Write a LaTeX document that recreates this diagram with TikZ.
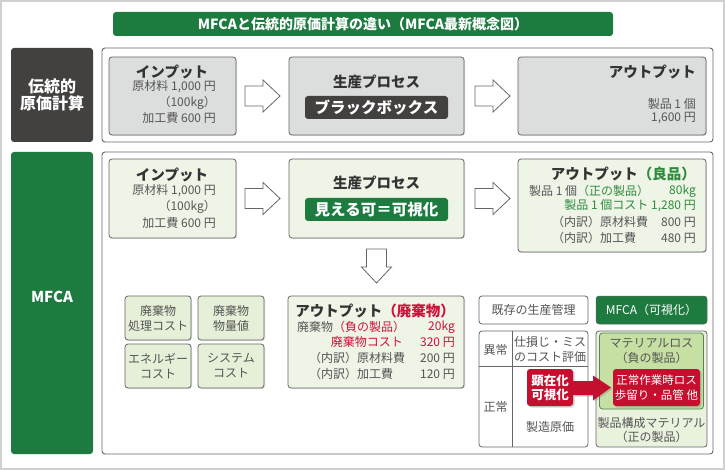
\documentclass[tikz,border=0pt]{standalone}
\usepackage{fontspec}
\setmainfont{Noto Sans CJK JP}
\usetikzlibrary{calc,shadows}
\definecolor{mgreen}{HTML}{1D7B40}
\definecolor{tgreen}{HTML}{2E8B3E}
\definecolor{tred}{HTML}{D0103A}
\definecolor{mred}{HTML}{C4102E}
\definecolor{dgray}{HTML}{43413F}
\definecolor{bordergray}{HTML}{666666}
\definecolor{boxgray}{HTML}{DCDDDD}
\definecolor{boxgreen}{HTML}{EEF4E6}
\definecolor{smallgreen}{HTML}{E6F0D8}
\definecolor{lossgreen}{HTML}{C6DFA2}
\definecolor{outgreen}{HTML}{E9F2DD}
\definecolor{bodytext}{HTML}{555555}
\definecolor{headtext}{HTML}{333333}
\definecolor{framegray}{HTML}{D0D0D0}
\newcommand\fh{\fontsize{14.5}{16}\selectfont\bfseries}
\newcommand\fb{\fontsize{12}{15}\selectfont}
\tikzset{
  shd/.style={drop shadow={shadow xshift=1pt,shadow yshift=-1pt,opacity=0.25}},
  rect/.style={anchor=north west,inner sep=0pt,outer sep=0pt,rounded corners=3pt},
  panel/.style={rect,draw=bordergray,line width=0.9pt,fill=white},
  label/.style={rect,text=white,font=\fontsize{16}{19}\selectfont\bfseries,align=center},
  graybox/.style={rect,draw=bordergray,line width=0.8pt,fill=boxgray,shd},
  greenbox/.style={rect,draw=bordergray,line width=0.8pt,fill=boxgreen,shd},
  smallbox/.style={rect,draw=bordergray,line width=0.8pt,fill=smallgreen,shd,text=bodytext,font=\fb,align=center},
  head/.style={inner sep=0pt,text=headtext,font=\fh},
  body/.style={inner sep=0pt,text=bodytext,font=\fb},
  pill/.style={rect,text=white,font=\fontsize{15.5}{18}\selectfont\bfseries},
  redbox/.style={rect,fill=mred,text=white,align=center,drop shadow={shadow xshift=1.5pt,shadow yshift=-1.5pt,opacity=0.35}},
  barrow/.style={draw=bordergray,line width=0.8pt,fill=white,line join=miter},
  rarrow/.pic={\path[barrow] (0,-10) -- (18,-10) -- (18,-16) -- (35,0) -- (18,16) -- (18,10) -- (0,10) -- cycle;},
  darrow/.pic={\path[barrow] (-10,0) -- (-10,18) -- (-15,18) -- (0,34) -- (15,18) -- (10,18) -- (10,0) -- cycle;}
}
\begin{document}
\begin{tikzpicture}[x=1pt,y=-1pt]
\useasboundingbox (0,0) rectangle (725,470);
\draw[line width=2pt,framegray] (1,1) rectangle (724,469);

% title
\node[rect,fill=mgreen,minimum width=500,minimum height=24,text=white,font=\fontsize{14}{16}\selectfont\bfseries] (title) at (113,12) {MFCAと伝統的原価計算の違い（MFCA最新概念図）};

% left labels
\node[label,fill=dgray,minimum width=82,minimum height=94] (lab1) at (11,48) {伝統的\\[-2pt]原価計算};
\node[rect,fill=mgreen,minimum width=82,minimum height=302] (lab2) at (11,152) {};
\node[text=white,font=\fontsize{15}{18}\selectfont\bfseries,inner sep=0pt] (lab2t) at (52,297) {MFCA};

% panels
\node[panel,minimum width=611,minimum height=94] (pan1) at (102,48) {};
\node[panel,minimum width=611,minimum height=302] (pan2) at (102,152) {};

% ---------- traditional row ----------
\node[graybox,minimum width=127,minimum height=78] (in1) at (109,57) {};
\node[head] (in1h) at (172,72) {インプット};
\node[body,anchor=east] (in1a) at (216,87) {原材料 1,000 円};
\node[body,anchor=east] (in1b) at (216,103) {（100kg）};
\node[body,anchor=east] (in1c) at (216,118) {加工費 600 円};

\node[graybox,minimum width=175,minimum height=78] (pr1) at (289,57) {};
\node[head] (pr1h) at (376.5,82) {生産プロセス};
\node[pill,fill=dgray,minimum width=143,minimum height=23] (bb) at (305,96) {};
\node[text=white,font=\fontsize{15.5}{18}\selectfont\bfseries,inner sep=0pt] (bbt) at (bb.center) {ブラックボックス};

\node[graybox,minimum width=188,minimum height=78] (out1) at (518,57) {};
\node[head,anchor=east] (out1h) at (696,72) {アウトプット};
\node[body,anchor=east] (out1a) at (696,104) {製品 1 個};
\node[body,anchor=east] (out1b) at (696,118) {1,600 円};

\pic at ($(in1.east)+(9,0)$) {rarrow};
\pic at ($(pr1.east)+(11,0)$) {rarrow};

% ---------- MFCA row ----------
\node[greenbox,minimum width=127,minimum height=79] (in2) at (109,159) {};
\node[head] (in2h) at (172,175) {インプット};
\node[body,anchor=east] (in2a) at (216,191) {原材料 1,000 円};
\node[body,anchor=east] (in2b) at (216,207) {（100kg）};
\node[body,anchor=east] (in2c) at (216,223) {加工費 600 円};

\node[greenbox,minimum width=175,minimum height=79] (pr2) at (289,159) {};
\node[head] (pr2h) at (376.5,183) {生産プロセス};
\node[pill,fill=mgreen,minimum width=143,minimum height=23] (vis) at (305,198) {};
\node[text=white,font=\fontsize{15.5}{18}\selectfont\bfseries,inner sep=0pt] (vist) at (vis.center) {見える可＝可視化};

\node[greenbox,minimum width=188,minimum height=93] (out2) at (518,159) {};
\node[head,anchor=east] (out2h) at (696,174) {アウトプット{\color{tgreen}（良品）}};
\node[body,anchor=west] (out2a) at (529,191) {製品 1 個{\color{tgreen}（正の製品）}};
\node[body,anchor=east,text=tgreen] (out2ak) at (696,191) {80kg};
\node[body,anchor=east,text=tgreen] (out2b) at (696,206) {製品 1 個コスト 1,280 円};
\node[body,anchor=west] (out2c) at (552,222) {（内訳）原材料費};
\node[body,anchor=east] (out2cv) at (696,222) {800 円};
\node[body,anchor=west] (out2d) at (552,238) {（内訳）加工費};
\node[body,anchor=east] (out2dv) at (696,238) {480 円};

\pic at ($(in2.east)+(9,0)$) {rarrow};
\pic at ($(pr2.east)+(11,0)$) {rarrow};
\pic at ($(pr2.south)+(0,11)$) {darrow};

% small boxes
\node[smallbox,minimum width=66,minimum height=44] (s1) at (125,296) {廃棄物\\処理コスト};
\node[smallbox,minimum width=66,minimum height=44] (s2) at (198,296) {廃棄物\\物量値};
\node[smallbox,minimum width=66,minimum height=44] (s3) at (125,344) {エネルギー\\コスト};
\node[smallbox,minimum width=66,minimum height=44] (s4) at (198,344) {システム\\コスト};

% waste output
\node[greenbox,minimum width=176,minimum height=92] (wst) at (288,296) {};
\node[head,anchor=east] (wsth) at (455,311) {アウトプット{\color{tred}（廃棄物）}};
\node[body,anchor=west] (wsta) at (297,327) {廃棄物{\color{tred}（負の製品）}};
\node[body,anchor=east,text=tred] (wstak) at (455,327) {20kg};
\node[body,anchor=east,text=tred] (wstb) at (403,342) {廃棄物コスト};
\node[body,anchor=east,text=tred] (wstbv) at (455,342) {320 円};
\node[body,anchor=west] (wstc) at (309,358) {（内訳）原材料費};
\node[body,anchor=east] (wstcv) at (455,358) {200 円};
\node[body,anchor=west] (wstd) at (309,374) {（内訳）加工費};
\node[body,anchor=east] (wstdv) at (455,374) {120 円};

% existing management vs MFCA
\node[rect,draw=bordergray,line width=0.8pt,fill=white,minimum width=109,minimum height=28,text=bodytext,font=\fb] (exist) at (479,296) {既存の生産管理};
\node[rect,fill=mgreen,draw=bordergray,line width=0.5pt,minimum width=111,minimum height=28,text=white,font=\fb] (mfcav) at (596,296) {MFCA（可視化）};

% table
\node[rect,draw=bordergray,line width=0.8pt,fill=white,minimum width=109,minimum height=116] (tbl) at (479,331) {};
\coordinate (tv1) at (512,331);
\coordinate (tv2) at (512,447);
\coordinate (th1) at (479,366);
\coordinate (th2) at (588,366);
\draw[bordergray,line width=0.8pt] (tv1) -- (tv2) (th1) -- (th2);
\node[body] (ab) at (495.5,350) {異常};
\node[body] (abt1) at (550,342) {仕損じ・ミス};
\node[body] (abt2) at (550,357) {のコスト評価};
\node[body] (nm) at (495.5,407) {正常};
\node[body] (nmt) at (550,427) {製造原価};

% green area
\node[rect,draw=bordergray,line width=0.8pt,fill=outgreen,minimum width=111,minimum height=116] (garea) at (596,331) {};
\node[rect,draw=bordergray!80!green,line width=0.8pt,fill=lossgreen,minimum width=104,minimum height=76] (loss) at (599.5,333) {};
\node[body] (lossa) at (651.5,343) {マテリアルロス};
\node[body] (lossb) at (651.5,358) {（負の製品）};
\node[body] (posa) at (651.5,423) {製品構成マテリアル};
\node[body] (posb) at (651.5,437) {（正の製品）};

% red boxes and arrow
\node[redbox,minimum width=46,minimum height=37,font=\fontsize{12.5}{14.5}\selectfont\bfseries] (kz) at (527,369) {顕在化\\可視化};
\node[redbox,minimum width=87,minimum height=37,font=\fontsize{11.5}{15}\selectfont] (nl) at (613,369) {正常作業時ロス\\歩留り・品管 他};
\path[fill=mred,drop shadow={shadow xshift=1.5pt,shadow yshift=-1.5pt,opacity=0.35}]
  (kz.east |- 0,381) -- ($(nl.west |- 0,381)+(-20,0)$) -- ($(nl.west |- 0,375.5)+(-20,0)$)
  -- ($(nl.west)+(-2,0)$) -- ($(nl.west |- 0,400.5)+(-20,0)$) -- ($(nl.west |- 0,395)+(-20,0)$) -- (kz.east |- 0,395) -- cycle;
\end{tikzpicture}
\end{document}
